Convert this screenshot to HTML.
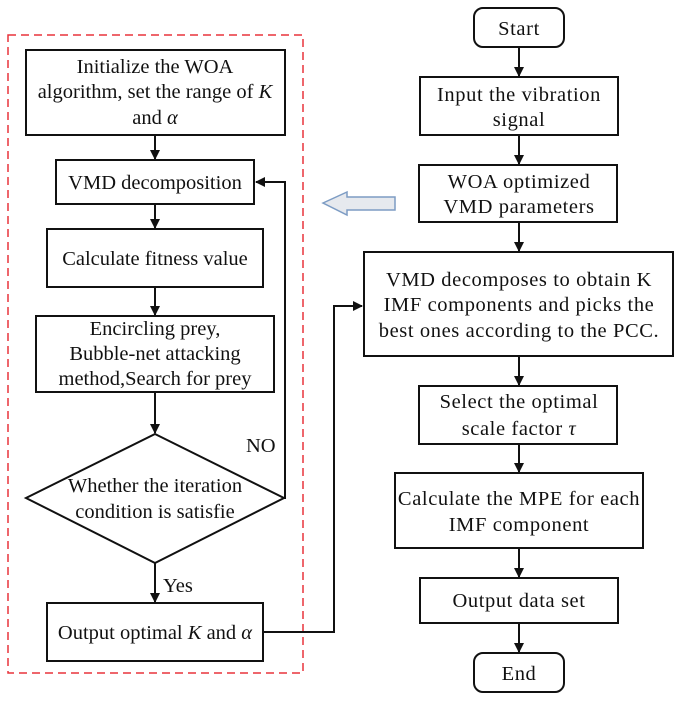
<!DOCTYPE html>
<html><head><style>
html,body{margin:0;padding:0;background:#fff;}
svg text{font-family:"Liberation Serif",serif;font-size:20.5px;fill:#111;}
.r text{letter-spacing:0.6px;}
</style></head><body>
<svg width="680" height="701" viewBox="0 0 680 701" xmlns="http://www.w3.org/2000/svg">
<defs>
<marker id="a" markerWidth="10" markerHeight="10" refX="9" refY="5" orient="auto" markerUnits="userSpaceOnUse">
<path d="M0,0 L10,5 L0,10 z" fill="#111"/></marker>
</defs>
<g fill="none" stroke="#111" stroke-width="2">
<rect x="8" y="35" width="295" height="638" stroke="#e8343c" stroke-width="1.5" stroke-dasharray="8,5"/>
<rect x="26" y="50" width="259" height="85"/>
<rect x="56" y="160" width="198" height="44"/>
<rect x="47" y="229" width="216" height="58"/>
<rect x="36" y="316" width="238" height="76"/>
<polygon points="155,434 284,498 155,563 26,498"/>
<rect x="47" y="603" width="216" height="58"/>
<line x1="155" y1="135" x2="155" y2="159" marker-end="url(#a)"/>
<line x1="155" y1="204" x2="155" y2="228" marker-end="url(#a)"/>
<line x1="155" y1="287" x2="155" y2="315" marker-end="url(#a)"/>
<line x1="155" y1="392" x2="155" y2="433" marker-end="url(#a)"/>
<line x1="155" y1="563" x2="155" y2="602" marker-end="url(#a)"/>
<polyline points="284,498 285,498 285,182 256,182" marker-end="url(#a)"/>
<polyline points="263,632 334,632 334,306 362,306" marker-end="url(#a)"/>
<rect x="474" y="8" width="90" height="39" rx="9"/>
<rect x="420" y="77" width="198" height="58"/>
<rect x="419" y="165" width="198" height="57"/>
<rect x="364" y="252" width="309" height="104"/>
<rect x="419" y="386" width="198" height="58"/>
<rect x="395" y="473" width="248" height="75"/>
<rect x="420" y="578" width="198" height="45"/>
<rect x="474" y="653" width="90" height="39" rx="9"/>
<line x1="519" y1="47" x2="519" y2="76" marker-end="url(#a)"/>
<line x1="519" y1="135" x2="519" y2="164" marker-end="url(#a)"/>
<line x1="519" y1="222" x2="519" y2="251" marker-end="url(#a)"/>
<line x1="519" y1="356" x2="519" y2="385" marker-end="url(#a)"/>
<line x1="519" y1="444" x2="519" y2="472" marker-end="url(#a)"/>
<line x1="519" y1="548" x2="519" y2="577" marker-end="url(#a)"/>
<line x1="519" y1="623" x2="519" y2="652" marker-end="url(#a)"/>
</g>
<polygon points="323,203 347,192 347,197 395,197 395,210 347,210 347,215" fill="#e6e9ee" stroke="#7d9cc4" stroke-width="1.5"/>
<g text-anchor="middle">
<text x="155" y="73">Initialize the WOA</text>
<text x="155" y="98">algorithm, set the range of <tspan font-style="italic">K</tspan></text>
<text x="155" y="124">and <tspan font-style="italic">α</tspan></text>
<text x="155" y="189">VMD decomposition</text>
<text x="155" y="265">Calculate fitness value</text>
<text x="155" y="335">Encircling prey,</text>
<text x="155" y="360">Bubble-net attacking</text>
<text x="155" y="385">method,Search for prey</text>
<text x="155" y="492">Whether the iteration</text>
<text x="155" y="518">condition is satisfie</text>
<text x="155" y="639">Output optimal <tspan font-style="italic">K</tspan> and <tspan font-style="italic">α</tspan></text>
</g>
<text x="246" y="452">NO</text>
<text x="163" y="592">Yes</text>
<g class="r" text-anchor="middle">
<text x="519" y="35">Start</text>
<text x="519" y="101">Input the vibration</text>
<text x="519" y="126">signal</text>
<text x="519" y="188">WOA optimized</text>
<text x="519" y="213">VMD parameters</text>
<text x="519" y="286">VMD decomposes to obtain K</text>
<text x="519" y="311">IMF components and picks the</text>
<text x="519" y="337">best ones according to the PCC.</text>
<text x="519" y="408">Select the optimal</text>
<text x="519" y="435">scale factor <tspan font-style="italic" font-size="20">  τ</tspan></text>
<text x="519" y="505">Calculate the MPE for each</text>
<text x="519" y="531">IMF component</text>
<text x="519" y="607">Output data set</text>
<text x="519" y="680">End</text>
</g>
</svg>
</body></html>
